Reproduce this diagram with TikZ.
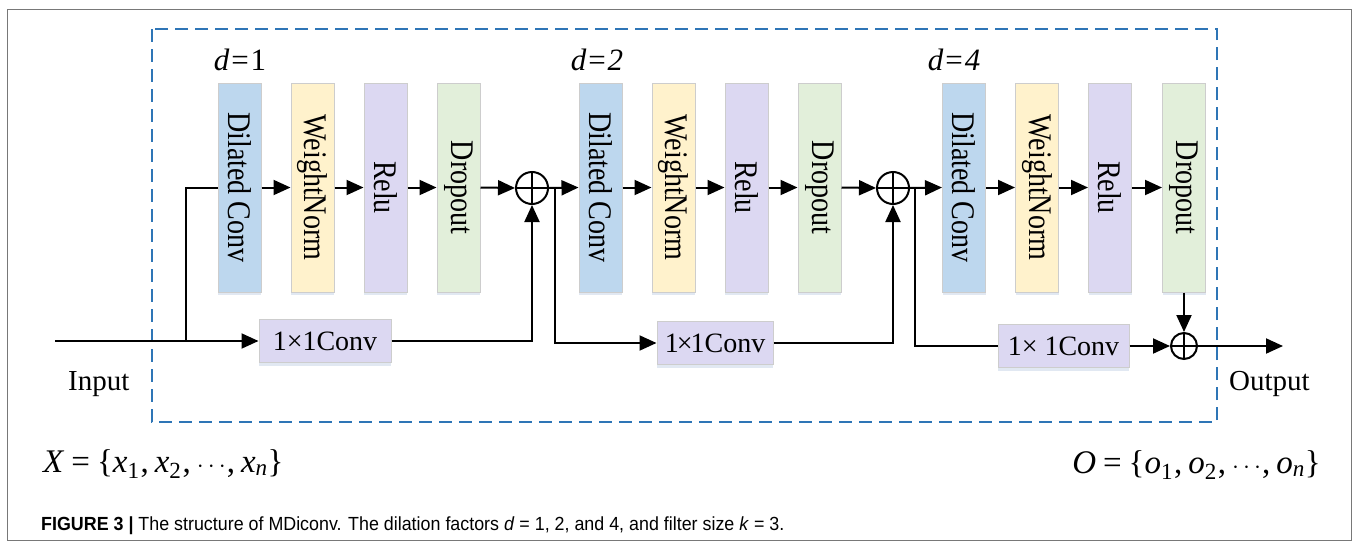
\documentclass[tikz,border=0pt]{standalone}
\usepackage{graphicx}
\usepackage{fontspec}
\setmainfont{Liberation Serif}
\newfontfamily\labelfont[FakeStretch=0.85]{Liberation Serif}
\newfontfamily\capfont[FakeStretch=0.94]{Liberation Sans}
\usetikzlibrary{arrows.meta,shadows}

\definecolor{convblue}{RGB}{189,215,238}
\definecolor{wnyellow}{RGB}{255,242,204}
\definecolor{relupurple}{RGB}{220,216,242}
\definecolor{dropgreen}{RGB}{226,239,218}
\definecolor{boxedge}{RGB}{205,205,205}
\definecolor{dashblue}{RGB}{46,117,182}
\definecolor{framegray}{RGB}{120,120,120}
\definecolor{shadowtint}{RGB}{170,190,220}

\tikzset{
  layerbox/.style={draw=boxedge, line width=1pt, minimum width=43pt,
    minimum height=209pt, inner sep=0pt,
    font=\labelfont\fontsize{33}{35}\selectfont,
    drop shadow={shadow xshift=0pt, shadow yshift=-3pt, fill=shadowtint, opacity=0.35}},
  convbox/.style={layerbox, fill=convblue},
  normbox/.style={layerbox, fill=wnyellow},
  relubox/.style={layerbox, fill=relupurple},
  dropbox/.style={layerbox, fill=dropgreen},
  skipbox/.style={draw=boxedge, line width=1pt, fill=relupurple, minimum width=132pt,
    minimum height=43pt, inner sep=0pt, font=\fontsize{28}{30}\selectfont,
    drop shadow={shadow xshift=0pt, shadow yshift=-3pt, fill=shadowtint, opacity=0.35}},
  addnode/.style={circle, draw, line width=2pt, minimum size=#1, inner sep=0pt,
    path picture={\draw[line width=1.6pt]
      (path picture bounding box.north) -- (path picture bounding box.south)
      (path picture bounding box.west) -- (path picture bounding box.east);}},
  wire/.style={line width=2pt},
  flow/.style={wire, -{Triangle[length=17pt,width=15pt]}},
  dlabel/.style={anchor=base, inner sep=0pt, font=\fontsize{31}{33}\selectfont\itshape},
  iolabel/.style={anchor=base west, inner sep=0pt, font=\fontsize{29}{31}\selectfont},
  formula/.style={inner sep=0pt, font=\fontsize{33}{37}\selectfont},
}

% one element of a sequence: italic letter with an index
\newcommand{\seqitem}[2]{\textit{#1}\textsubscript{#2}}
% separator between sequence elements
\newcommand{\seqsep}{\hspace{1pt},\hspace{6pt}}

\begin{document}
\begin{tikzpicture}[x=1pt, y=-1pt]
  \fill[white] (0,0) rectangle (1358,549);
  \useasboundingbox (0,0) rectangle (1358,549);

  % figure frame and module boundary
  \draw[framegray, line width=1pt] (7,9) rectangle (1351,540);
  \draw[dashblue, line width=2pt, dash pattern=on 13pt off 7pt] (152,29) rectangle (1217,422);

  % dilation factors
  \node[dlabel] (d1) at (240,70) {d\kern2pt\upshape=\kern2pt1};
  \node[dlabel] (d2) at (597,70) {d\kern2pt\upshape=\kern2pt\itshape2};
  \node[dlabel] (d4) at (954,70) {d\kern2pt\upshape=\kern2pt\itshape4};

  % residual block 1
  \node[convbox] (dc1) at (239.5,187.5) {\rotatebox{-90}{Dilated Conv}};
  \node[normbox] (wn1) at (312.5,187.5) {\rotatebox{-90}{WeightNorm}};
  \node[relubox] (re1) at (385.5,187.5) {\rotatebox{-90}{Relu}};
  \node[dropbox] (dp1) at (458.5,187.5) {\rotatebox{-90}{Dropout}};
  \node[addnode=32pt] (add1) at (532,188) {};
  \node[skipbox] (cv1) at (325,341) {1×1Conv};

  % residual block 2
  \node[convbox] (dc2) at (600.5,187.5) {\rotatebox{-90}{Dilated Conv}};
  \node[normbox] (wn2) at (673.5,187.5) {\rotatebox{-90}{WeightNorm}};
  \node[relubox] (re2) at (746.5,187.5) {\rotatebox{-90}{Relu}};
  \node[dropbox] (dp2) at (819.5,187.5) {\rotatebox{-90}{Dropout}};
  \node[addnode=32pt] (add2) at (893,188) {};
  \node[skipbox, minimum width=116pt] (cv2) at (715,343) {1\kern-2pt×\kern-2pt1Conv};

  % residual block 3
  \node[convbox] (dc3) at (964,187.5) {\rotatebox{-90}{Dilated Conv}};
  \node[normbox] (wn3) at (1037,187.5) {\rotatebox{-90}{WeightNorm}};
  \node[relubox] (re3) at (1110,187.5) {\rotatebox{-90}{Relu}};
  \node[dropbox] (dp3) at (1184,187.5) {\rotatebox{-90}{Dropout}};
  \node[addnode=26pt] (add3) at (1184,346) {};
  \node[skipbox, minimum width=131pt] (cv3) at (1063.5,346) {1× 1Conv};

  % input, output and branch points
  \coordinate (in) at (55,341);
  \coordinate (j1) at (186,341);
  \coordinate (j2) at (555,188);
  \coordinate (j3) at (915,188);
  \coordinate (out) at (1283,346);

  % block 1 wiring
  \draw[flow] (in) -- (cv1.west);
  \draw[wire] (j1) |- (dc1.west);
  \draw[flow] (dc1.east) -- (wn1.west);
  \draw[flow] (wn1.east) -- (re1.west);
  \draw[flow] (re1.east) -- (dp1.west);
  \draw[flow] (dp1.east) -- (add1.west);
  \draw[flow] (cv1.east) -| (add1.south);

  % block 2 wiring
  \draw[flow] (add1.east) -- (dc2.west);
  \draw[flow] (j2) |- (cv2.west);
  \draw[flow] (dc2.east) -- (wn2.west);
  \draw[flow] (wn2.east) -- (re2.west);
  \draw[flow] (re2.east) -- (dp2.west);
  \draw[flow] (dp2.east) -- (add2.west);
  \draw[flow] (cv2.east) -| (add2.south);

  % block 3 wiring
  \draw[flow] (add2.east) -- (dc3.west);
  \draw[wire] (j3) |- (cv3.west);
  \draw[flow] (dc3.east) -- (wn3.west);
  \draw[flow] (wn3.east) -- (re3.west);
  \draw[flow] (re3.east) -- (dp3.west);
  \draw[flow] (dp3.south) -- (add3.north);
  \draw[flow] (cv3.east) -- (add3.west);
  \draw[flow] (add3.east) -- (out);

  % terminal labels
  \node[iolabel] (inlab) at (68,390) {Input};
  \node[iolabel] (outlab) at (1229,390) {Output};

  % sequences
  \node[formula, anchor=base west] (xseq) at (43,472)
    {\textit{X}\hspace{7pt}=\hspace{7pt}\{\seqitem{x}{1}\seqsep\seqitem{x}{2}\seqsep$\cdots$\seqsep\seqitem{x}{\textit{n}}\}};
  \node[formula, anchor=base east] (oseq) at (1321,473)
    {\textit{O}\hspace{7pt}=\hspace{7pt}\{\seqitem{o}{1}\seqsep\seqitem{o}{2}\seqsep$\cdots$\seqsep\seqitem{o}{\textit{n}}\}};

  % caption
  \node[anchor=base west, inner sep=0pt, font=\capfont\fontsize{19}{22}\selectfont] (cap) at (41,530)
    {{\bfseries FIGURE 3 |} The structure of MDiconv. The dilation factors \textit{d} = 1, 2, and 4, and filter size \textit{k} = 3.};
\end{tikzpicture}
\end{document}
